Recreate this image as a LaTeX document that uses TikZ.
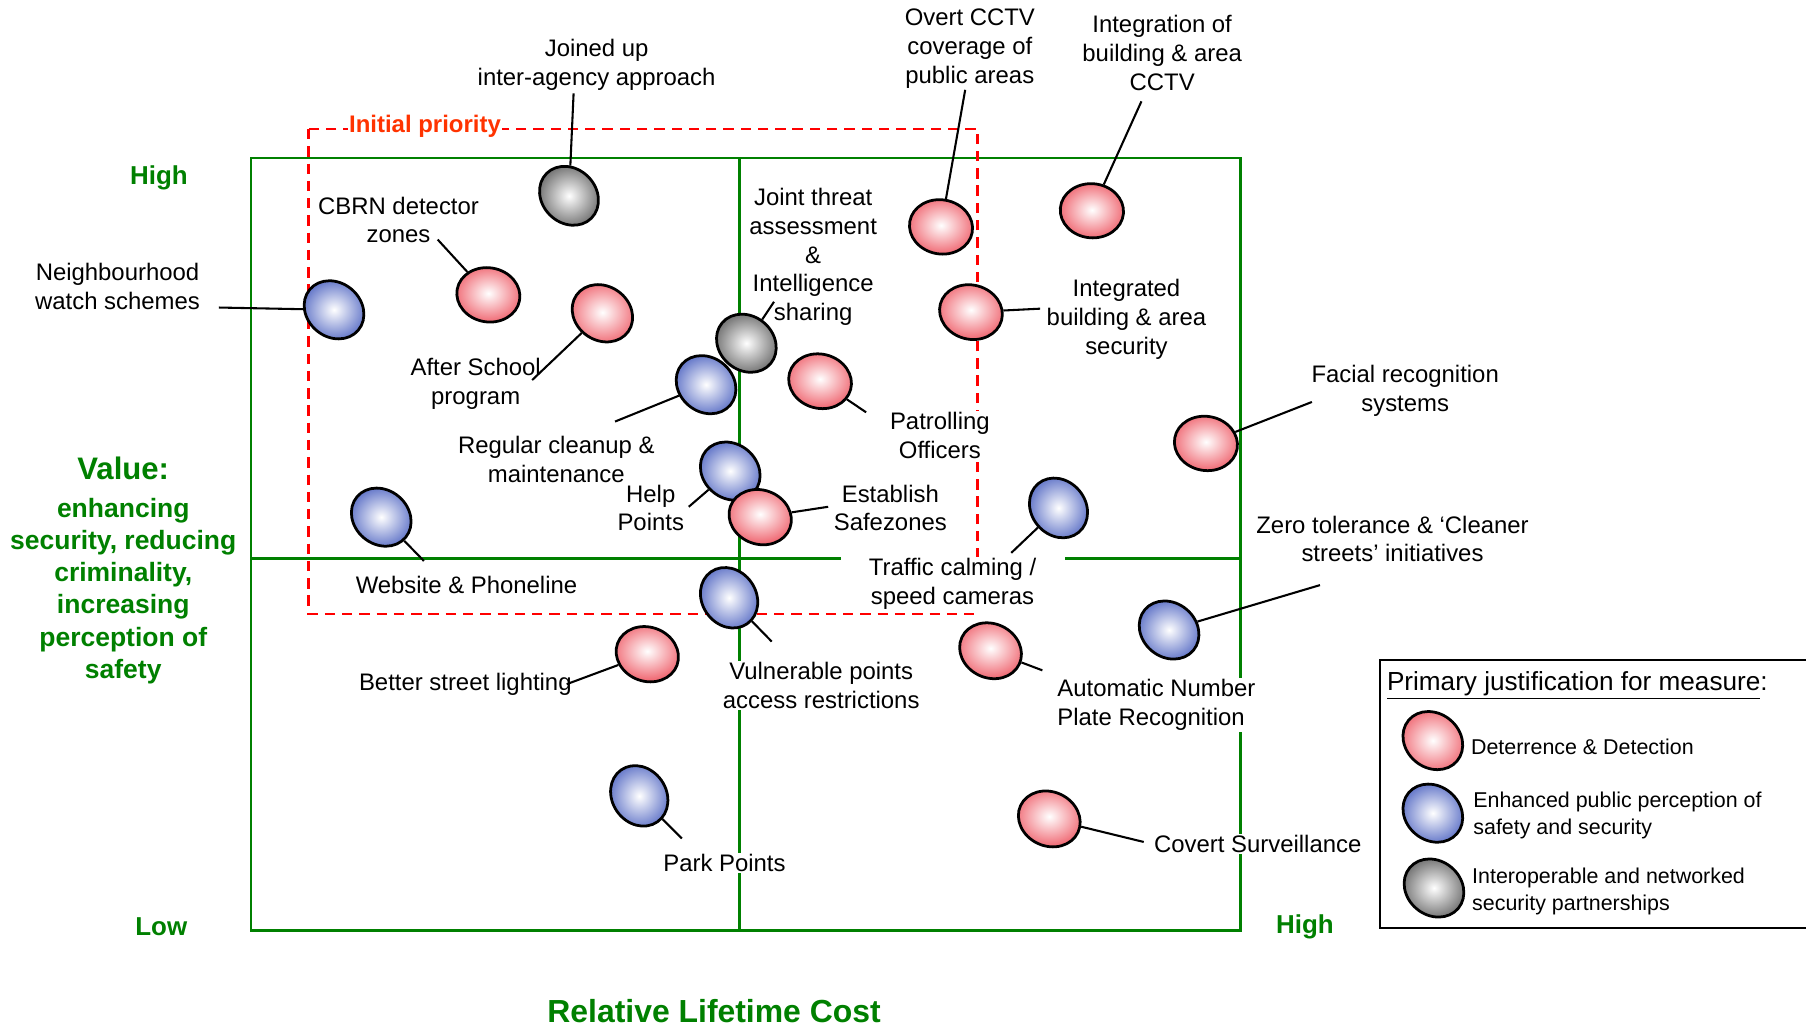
\documentclass[tikz,border=0pt]{standalone}
\usepackage{fontspec}
\setmainfont{Liberation Sans}
\usetikzlibrary{shapes.geometric}
\definecolor{ggreen}{RGB}{0,128,0}
\definecolor{prred}{RGB}{255,0,0}
\definecolor{prtext}{RGB}{255,51,0}
\definecolor{pinkc}{RGB}{240,108,118}
\definecolor{bluec}{RGB}{92,112,198}
\definecolor{grayc}{RGB}{108,108,108}
\newcommand\lblsize{\fontsize{20.75}{25}\selectfont}
\newcommand\axsize{\fontsize{22.5}{27}\selectfont\bfseries}
\newcommand\valsize{\fontsize{27}{32}\selectfont\bfseries}
\newcommand\descsize{\fontsize{23}{28}\selectfont\bfseries}
\newcommand\costsize{\fontsize{27.7}{33}\selectfont\bfseries}
\newcommand\prisize{\fontsize{20.8}{25}\selectfont\bfseries}
\newcommand\legtitle{\fontsize{22.7}{27}\selectfont}
\newcommand\legsize{\fontsize{18.6}{23}\selectfont}
\begin{document}
\begin{tikzpicture}[x=1pt,y=-1pt,
  gridline/.style={draw=ggreen, line width=2.2pt},
  prio/.style={draw=prred, line width=2.4pt, dash pattern=on 9pt off 6pt},
  lbl/.style={font=\lblsize, align=center, fill=white, inner sep=1pt},
  conn/.style={draw=black, line width=1.8pt},
  mdot/.style={ellipse, draw=black, line width=2.4pt, minimum width=55pt, minimum height=47pt, inner sep=0pt, inner color=white},
  pinkdot/.style={mdot, outer color=pinkc},
  bluedot/.style={mdot, outer color=bluec},
  graydot/.style={mdot, outer color=grayc},
  axis/.style={text=ggreen, align=center, inner sep=0pt},
  legtxt/.style={font=\legsize, align=left, anchor=west, inner sep=0pt}
]
\useasboundingbox (0,0) rectangle (1568,893);

% grid
\draw[gridline] (218,137) rectangle (1077,808);
\draw[gridline] (642,137) -- (642,808);
\draw[gridline] (218,485) -- (730,485);
\draw[gridline] (925,485) -- (1077,485);

% initial priority
\draw[prio] (268,112) rectangle (849,533);
\node[font=\prisize, text=prtext, fill=white, inner sep=1pt] (tPrio) at (369,110) {Initial priority};

% labels
\node[lbl] (tJoined) at (518,56) {Joined up\\inter-agency approach};
\node[lbl] (tCBRN) at (346,191) {CBRN detector\\zones};
\node[lbl] (tNb) at (102,249) {Neighbourhood\\watch schemes};
\node[lbl] (tAS) at (413,333) {After School\\program};
\node[lbl] (tJoint) at (706,223) {Joint threat\\assessment\\\&\\Intelligence\\sharing};
\node[lbl] (tOvert) at (842,42) {Overt CCTV\\coverage of\\public areas};
\node[lbl] (tIC) at (1009,46) {Integration of\\building \& area\\CCTV};
\node[lbl] (tIS) at (978,277) {Integrated\\building \& area\\security};
\node[lbl] (tFR) at (1220,339) {Facial recognition\\systems};
\node[lbl] (tRC) at (483,399) {Regular cleanup \&\\maintenance};
\node[lbl] (tPO) at (816,378) {Patrolling\\Officers};
\node[lbl] (tHP) at (565,441) {Help\\Points};
\node[lbl] (tSZ) at (773,441) {Establish\\Safezones};
\node[lbl] (tWP) at (405,508) {Website \& Phoneline};
\node[lbl] (tTC) at (827,507) {Traffic calming /\\speed cameras};
\node[lbl] (tZT) at (1209,468) {Zero tolerance \& ‘Cleaner\\streets’ initiatives};
\node[lbl] (tVP) at (713,595) {Vulnerable points\\access restrictions};
\node[lbl] (tSL) at (404,594) {Better street lighting};
\node[lbl, align=left] (tAN) at (1004,612) {Automatic Number\\Plate Recognition};
\node[lbl] (tPP) at (629,749) {Park Points};
\node[lbl] (tCS) at (1092,733) {Covert Surveillance};

% connector free ends
\coordinate (cJoined) at (498,81);
\coordinate (cCBRN) at (380,208);
\coordinate (cNb) at (190,267);
\coordinate (cAS) at (462,330);
\coordinate (cJoint) at (672,262);
\coordinate (cOvert) at (838,78);
\coordinate (cIC) at (991,88);
\coordinate (cIS) at (903,268);
\coordinate (cFR) at (1139,349);
\coordinate (cRC) at (534,366);
\coordinate (cPO) at (752,358);
\coordinate (cHP) at (598,440);
\coordinate (cSZ) at (719,440);
\coordinate (cWP) at (368,487);
\coordinate (cTC) at (878,480);
\coordinate (cZT) at (1146,508);
\coordinate (cVP) at (670,557);
\coordinate (cSL) at (492,594);
\coordinate (cAN) at (905,582);
\coordinate (cPP) at (592,728);
\coordinate (cCS) at (993,731);

% ellipses
\node[graydot, rotate=-45] (eJoined) at (494,170) {};
\node[pinkdot, rotate=-10] (eCBRN) at (424,256) {};
\node[bluedot, rotate=-40] (eNb) at (290,269) {};
\node[pinkdot, rotate=-35] (eAS) at (523,272) {};
\node[pinkdot, rotate=-10] (eOvert) at (817,197) {};
\node[pinkdot, rotate=-5] (eIC) at (948,183) {};
\node[pinkdot, rotate=-15] (eIS) at (843,271) {};
\node[pinkdot, rotate=-10] (eFR) at (1047,385) {};
\node[bluedot, rotate=-40] (eRC) at (613,334) {};
\node[graydot, rotate=-40] (eJoint) at (648,298) {};
\node[pinkdot, rotate=-15] (ePO) at (712,331) {};
\node[bluedot, rotate=-40] (eHP) at (634,409) {};
\node[pinkdot, rotate=-20] (eSZ) at (660,449) {};
\node[bluedot, rotate=-40] (eWP) at (331,449) {};
\node[bluedot, rotate=-50] (eTC) at (919,441) {};
\node[bluedot, rotate=-40] (eZT) at (1015,547) {};
\node[bluedot, rotate=-55] (eVP) at (633,519) {};
\node[pinkdot, rotate=-20] (eSL) at (562,568) {};
\node[pinkdot, rotate=-25] (eAN) at (860,565) {};
\node[bluedot, rotate=-55] (ePP) at (555,691) {};
\node[pinkdot, rotate=-25] (eCS) at (911,711) {};

% connectors
\draw[conn] (cJoined) -- (eJoined);
\draw[conn] (cCBRN) -- (eCBRN);
\draw[conn] (cNb) -- (eNb);
\draw[conn] (cAS) -- (eAS);
\draw[conn] (cJoint) -- (eJoint);
\draw[conn] (cOvert) -- (eOvert);
\draw[conn] (cIC) -- (eIC);
\draw[conn] (cIS) -- (eIS);
\draw[conn] (cFR) -- (eFR);
\draw[conn] (cRC) -- (eRC);
\draw[conn] (cPO) -- (ePO);
\draw[conn] (cHP) -- (eHP);
\draw[conn] (cSZ) -- (eSZ);
\draw[conn] (cWP) -- (eWP);
\draw[conn] (cTC) -- (eTC);
\draw[conn] (cZT) -- (eZT);
\draw[conn] (cVP) -- (eVP);
\draw[conn] (cSL) -- (eSL);
\draw[conn] (cAN) -- (eAN);
\draw[conn] (cPP) -- (ePP);
\draw[conn] (cCS) -- (eCS);

% axis texts
\node[axis, font=\axsize] (aHigh) at (138,154) {High};
\node[axis, font=\axsize] (aLow) at (140,805) {Low};
\node[axis, font=\axsize] (aHighX) at (1133,805) {High};
\node[axis, font=\valsize] (aValue) at (107,407) {Value:};
\node[axis, font=\descsize] (aDesc) at (107,513) {enhancing\\security, reducing\\criminality,\\increasing\\perception of\\safety};
\node[axis, font=\costsize] (aCost) at (620,878) {Relative Lifetime Cost};

% legend
\draw[line width=2pt] (1568,573) -- (1198,573) -- (1198,806) -- (1568,806);
\node[font=\legtitle, anchor=west, inner sep=0pt] (lTitle) at (1204,595) {\underline{Primary justification for measure}:};
\node[pinkdot, rotate=-40] (lPink) at (1244,643) {};
\node[bluedot, rotate=-40] (lBlue) at (1244,706) {};
\node[graydot, rotate=-40] (lGray) at (1245,771) {};
\node[legtxt] (lPinkT) at (1277,648) {Deterrence \& Detection};
\node[legtxt] (lBlueT) at (1279,708) {Enhanced public perception of\\safety and security};
\node[legtxt] (lGrayT) at (1278,774) {Interoperable and networked\\security partnerships};
\end{tikzpicture}
\end{document}
